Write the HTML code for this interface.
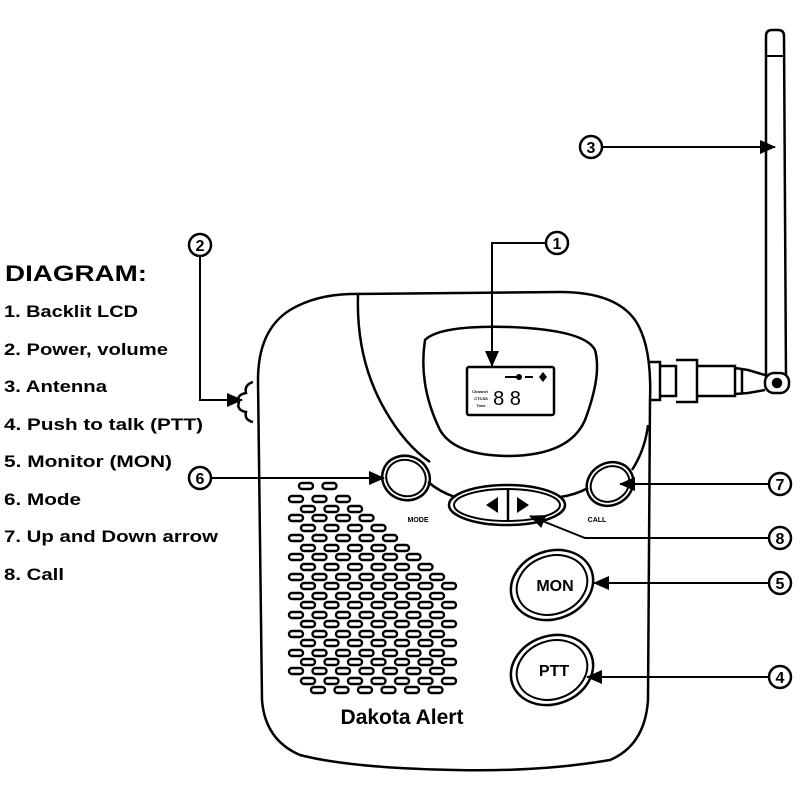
<!DOCTYPE html>
<html><head><meta charset="utf-8"><style>
html,body{margin:0;padding:0;background:#fff;width:800px;height:800px;overflow:hidden}
svg{display:block}
text{font-family:"Liberation Sans",Arial,sans-serif}
</style></head><body>
<svg id="s" width="800" height="800" viewBox="0 0 800 800" xmlns="http://www.w3.org/2000/svg">
<defs>
<marker id="b" markerWidth="16" markerHeight="14" refX="15" refY="7" orient="auto" markerUnits="userSpaceOnUse"><path d="M0,0 L16,7 L0,14 Z" fill="#000"/></marker></defs>
<g fill="#000" font-weight="bold">
<text x="5" y="281" font-size="22" textLength="142" lengthAdjust="spacingAndGlyphs">DIAGRAM:</text>
<g font-size="17">
<text x="4" y="317" textLength="134" lengthAdjust="spacingAndGlyphs">1. Backlit LCD</text>
<text x="4" y="355" textLength="164" lengthAdjust="spacingAndGlyphs">2. Power, volume</text>
<text x="4" y="392" textLength="103" lengthAdjust="spacingAndGlyphs">3. Antenna</text>
<text x="4" y="430" textLength="199" lengthAdjust="spacingAndGlyphs">4. Push to talk (PTT)</text>
<text x="4" y="467" textLength="168" lengthAdjust="spacingAndGlyphs">5. Monitor (MON)</text>
<text x="4" y="505" textLength="77" lengthAdjust="spacingAndGlyphs">6. Mode</text>
<text x="4" y="542" textLength="214" lengthAdjust="spacingAndGlyphs">7. Up and Down arrow</text>
<text x="4" y="580" textLength="60" lengthAdjust="spacingAndGlyphs">8. Call</text>
</g></g>
<g fill="none" stroke="#000" stroke-width="2.5">
<path d="M766,380 L766,36 Q766,30 772,30 L778,30 Q784,30 784,36 L786,380"/>
<line x1="766" y1="56" x2="784" y2="56" stroke-width="2"/>
<rect x="765" y="373" width="24" height="20" rx="9" fill="#fff"/>
<circle cx="777" cy="383" r="4" fill="#000"/>
<path d="M650,362 L660,362 L660,400 L650,400"/>
<path d="M660,366 L676,366 L676,396 L660,396"/>
<path d="M676,360 L697,360 L697,402 L676,402"/>
<path d="M697,366 L735,366 L735,396 L697,396"/>
<path d="M735,368 L748,370 L765,375 M735,394 L748,393 L765,390"/>
<line x1="742" y1="369" x2="742" y2="394"/>
<path d="M262,700 L258,380 Q258,330 290,310 Q315,295 350,294 L560,292 Q615,292 635,320 Q652,345 650,400 L648,700 Q645,745 610,760 Q540,772 455,770 Q350,768 300,755 Q265,740 262,700 Z"/>
<path d="M358,295 Q356,360 385,410 Q405,445 430,462"/>
<path d="M428,482 Q440,492 455,497"/>
<path d="M560,497 Q575,495 588,488"/>
<path d="M632,470 Q645,450 648,425"/>
<path d="M253,382 Q244,385 246,393 Q236,395 239,402 Q236,410 246,412 Q244,420 253,422"/>
<path d="M425,340 Q440,325 510,327 Q585,330 595,350 Q602,375 585,420 Q570,455 510,456 Q455,456 440,430 Q418,385 425,340 Z"/>
<rect x="467" y="367" width="87" height="48" rx="2"/>
<ellipse cx="406" cy="478" rx="24" ry="22" transform="rotate(20 406 478)"/>
<ellipse cx="406" cy="478" rx="20" ry="18" transform="rotate(20 406 478)" stroke-width="2"/>
<ellipse cx="610" cy="484" rx="24" ry="21" transform="rotate(-30 610 484)"/>
<ellipse cx="610" cy="484" rx="20" ry="17" transform="rotate(-30 610 484)" stroke-width="2"/>
<ellipse cx="507" cy="505" rx="58" ry="20"/>
<ellipse cx="507" cy="505" rx="53" ry="16" stroke-width="2"/>
<line x1="508" y1="490" x2="508" y2="521"/>
<ellipse cx="552" cy="585" rx="42" ry="34" transform="rotate(-20 552 585)"/>
<ellipse cx="552" cy="585" rx="36" ry="29" transform="rotate(-20 552 585)" stroke-width="2"/>
<ellipse cx="552" cy="670" rx="42" ry="34" transform="rotate(-20 552 670)"/>
<ellipse cx="552" cy="670" rx="36" ry="29" transform="rotate(-20 552 670)" stroke-width="2"/>
<g stroke-width="2.5">
<circle cx="557" cy="243" r="11"/><circle cx="200" cy="245" r="11"/><circle cx="591" cy="147" r="11"/>
<circle cx="200" cy="478" r="11"/><circle cx="780" cy="484" r="11"/><circle cx="780" cy="538" r="11"/>
<circle cx="780" cy="583" r="11"/><circle cx="780" cy="677" r="11"/>
</g>
<g stroke-width="2">
<path d="M546,243 L492,243 L492,366" marker-end="url(#b)"/>
<path d="M200,257 L200,400 L242,400" marker-end="url(#b)"/>
<path d="M602,147 L775,147" marker-end="url(#b)"/>
<path d="M211,478 L384,478" marker-end="url(#b)"/>
<path d="M769,484 L620,484" marker-end="url(#b)"/>
<path d="M769,538 L585,538 L530,516" marker-end="url(#b)"/>
<path d="M769,583 L594,583" marker-end="url(#b)"/>
<path d="M769,677 L587,677" marker-end="url(#b)"/>
</g>
</g>
<g fill="#000" font-weight="bold" text-anchor="middle">
<text x="557" y="249" font-size="16">1</text><text x="200" y="251" font-size="16">2</text>
<text x="591" y="153" font-size="16">3</text><text x="200" y="484" font-size="16">6</text>
<text x="780" y="490" font-size="16">7</text><text x="780" y="544" font-size="16">8</text>
<text x="780" y="589" font-size="16">5</text><text x="780" y="683" font-size="16">4</text>
<text x="418" y="522" font-size="7">MODE</text><text x="597" y="522" font-size="7">CALL</text>
<text x="555" y="591" font-size="16">MON</text><text x="554" y="676" font-size="16">PTT</text>
<text x="402" y="724" font-size="21">Dakota Alert</text>
<path d="M498,497 L498,513 L486,505 Z M517,497 L517,513 L529,505 Z"/>
<text x="507" y="405" font-size="20" font-weight="normal" font-family="Liberation Mono">8 8</text>
<text x="480" y="393" font-size="4">Channel</text><text x="481" y="400" font-size="4">CTCSS</text><text x="481" y="407" font-size="4">Tone</text>
<circle cx="519" cy="377" r="3"/><rect x="505" y="376" width="12" height="2"/><rect x="525" y="376" width="8" height="2"/>
<path d="M543,372 L547,377 L543,382 L539,377 Z"/>
</g>
<g id="g" fill="#fff" stroke="#000" stroke-width="2.4"></g>
</svg>
<script>
var g=document.getElementById('g');
var ys=[486,499,509,518,528,538,548,557,567,577,586,596,605,615,624,634,643,653,662,671,681,690];
var cnt=[2,3,3,4,4,5,5,6,6,7,7,7,7,7,7,7,7,7,7,7,7,6];
var s='';
for(var i=0;i<ys.length;i++){var off=(i%2==1)?296:308;if(i==0)off=306;var n=cnt[i];
if(i==ys.length-1)off=318;
for(var k=0;k<n;k++){var x=off+k*23.5;if(x>462)continue;s+='<rect x="'+(x-7)+'" y="'+(ys[i]-3)+'" width="14" height="6" rx="3"/>';}}
g.innerHTML=s;
</script>
</body></html>
